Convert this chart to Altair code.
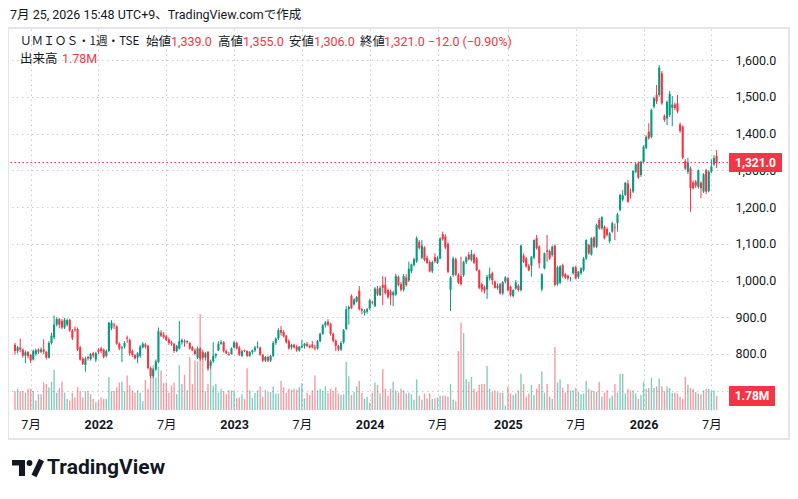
import altair as alt
import pandas as pd
import numpy as np

# ---------------- data (weekly candles) ----------------
week_start = "2021-05-24"

opens = [
    825, 808, 818, 812, 795, 805, 797, 785, 800, 812,
    806, 812, 806, 790, 830, 845, 880, 895, 890, 872,
    880, 893, 864, 868, 868, 818, 787, 770, 792, 786,
    802, 785, 812, 815, 812, 795, 808, 870, 880, 875,
    828, 815, 820, 845, 838, 808, 797, 790, 795, 818,
    826, 822, 762, 740, 758, 778, 858, 852, 848, 840,
    832, 828, 808, 815, 832, 835, 832, 830, 818, 810,
    790, 815, 806, 790, 806, 768, 780, 795, 810, 828,
    832, 808, 800, 800, 818, 830, 818, 795, 810, 808,
    795, 805, 810, 818, 818, 798, 782, 792, 782, 795,
    830, 842, 865, 860, 850, 835, 818, 825, 820, 810,
    818, 822, 828, 822, 826, 818, 815, 835, 855, 878,
    888, 882, 855, 836, 822, 812, 832, 868, 922, 958,
    935, 943, 972, 922, 912, 915, 924, 942, 930, 978,
    960, 988, 988, 974, 970, 960, 962, 1010, 990, 975,
    1008, 1000, 1025, 1042, 1052, 1105, 1062, 1090, 1062, 1050,
    1025, 1064, 1048, 1060, 1126, 1120, 1100, 975, 1015, 1058,
    1016, 1012, 1015, 1050, 1070, 1056, 1070, 1060, 1028, 990,
    982, 976, 1006, 1020, 997, 980, 990, 965, 997, 1006,
    983, 958, 978, 986, 974, 1068, 1060, 1040, 1040, 1062,
    1115, 1092, 976, 1033, 1082, 1080, 1069, 1095, 990, 994,
    1042, 1017, 1013, 1006, 1020, 1036, 1010, 1020, 1028, 1060,
    1097, 1071, 1117, 1092, 1165, 1142, 1146, 1140, 1107, 1133,
    1146, 1156, 1192, 1220, 1233, 1264, 1236, 1242, 1296, 1319,
    1287, 1323, 1361, 1405, 1391, 1473, 1505, 1505, 1564, 1448,
    1441, 1450, 1470, 1479, 1482, 1425, 1419, 1325, 1296, 1305,
    1267, 1269, 1255, 1266, 1242, 1300, 1244, 1296, 1316, 1339,
]

highs = [
    830, 822, 842, 815, 810, 808, 800, 812, 815, 815,
    818, 840, 808, 835, 858, 905, 900, 898, 895, 898,
    896, 896, 868, 875, 872, 822, 792, 792, 795, 803,
    806, 806, 816, 820, 815, 812, 888, 892, 885, 878,
    832, 822, 835, 850, 842, 812, 800, 805, 825, 832,
    830, 825, 766, 762, 785, 872, 865, 860, 852, 845,
    836, 830, 825, 890, 842, 840, 838, 833, 822, 815,
    820, 818, 812, 806, 808, 785, 832, 802, 835, 838,
    835, 812, 806, 818, 835, 834, 822, 812, 812, 810,
    808, 812, 822, 834, 820, 800, 795, 795, 798, 835,
    845, 870, 876, 865, 852, 840, 828, 828, 825, 822,
    838, 830, 832, 826, 835, 825, 838, 858, 882, 890,
    895, 885, 858, 840, 825, 835, 868, 930, 932, 962,
    952, 958, 985, 925, 922, 925, 950, 945, 982, 985,
    985, 1012, 1010, 978, 975, 972, 1018, 1014, 996, 1018,
    1017, 1051, 1046, 1062, 1120, 1110, 1110, 1093, 1068, 1055,
    1054, 1074, 1066, 1118, 1133, 1126, 1104, 1012, 1065, 1062,
    1020, 1065, 1054, 1066, 1078, 1083, 1074, 1064, 1030, 994,
    986, 1015, 1035, 1024, 1000, 992, 994, 998, 1012, 1010,
    986, 976, 1001, 990, 1098, 1074, 1064, 1045, 1066, 1112,
    1124, 1096, 1020, 1076, 1124, 1084, 1095, 1098, 1040, 1042,
    1046, 1020, 1016, 1010, 1038, 1040, 1026, 1036, 1064, 1112,
    1100, 1118, 1120, 1155, 1170, 1175, 1150, 1145, 1132, 1160,
    1155, 1184, 1236, 1246, 1268, 1274, 1250, 1300, 1320, 1324,
    1326, 1368, 1395, 1428, 1468, 1500, 1532, 1586, 1570, 1452,
    1490, 1516, 1502, 1484, 1505, 1430, 1422, 1330, 1334, 1310,
    1272, 1274, 1302, 1270, 1292, 1304, 1300, 1330, 1341, 1355,
]

lows = [
    798, 802, 805, 790, 775, 788, 775, 782, 795, 800,
    802, 800, 785, 788, 826, 840, 875, 870, 868, 868,
    875, 860, 838, 860, 808, 782, 770, 752, 782, 782,
    790, 778, 800, 802, 788, 790, 805, 865, 868, 825,
    810, 778, 815, 830, 795, 792, 785, 775, 790, 815,
    815, 758, 734, 735, 754, 775, 846, 842, 835, 825,
    822, 803, 805, 812, 825, 820, 828, 812, 808, 796,
    786, 782, 785, 782, 754, 760, 775, 788, 808, 825,
    804, 800, 795, 798, 815, 812, 795, 792, 805, 792,
    792, 800, 805, 815, 795, 778, 778, 778, 778, 792,
    825, 838, 850, 845, 828, 812, 812, 815, 806, 806,
    815, 815, 818, 815, 815, 810, 812, 832, 852, 872,
    875, 850, 832, 808, 808, 808, 828, 865, 880, 922,
    932, 940, 918, 908, 905, 910, 920, 935, 928, 958,
    958, 933, 962, 950, 933, 930, 958, 984, 970, 970,
    983, 996, 1020, 1038, 1048, 1084, 1058, 1052, 1045, 1022,
    1020, 1048, 1045, 1058, 1108, 1085, 1020, 917, 1010, 1012,
    990, 986, 1010, 1045, 1054, 1052, 1045, 1025, 976, 968,
    965, 950, 1000, 988, 978, 975, 962, 960, 992, 970,
    956, 954, 975, 970, 970, 1048, 1035, 1025, 1010, 1058,
    1084, 1033, 970, 1030, 1051, 1056, 1065, 984, 986, 990,
    1008, 1004, 1000, 997, 1016, 1003, 1004, 1016, 1024, 1056,
    1070, 1068, 1088, 1088, 1138, 1138, 1112, 1120, 1101, 1130,
    1110, 1133, 1188, 1215, 1230, 1212, 1223, 1238, 1292, 1276,
    1282, 1318, 1357, 1383, 1387, 1468, 1480, 1500, 1478, 1432,
    1423, 1445, 1420, 1464, 1455, 1402, 1330, 1300, 1290, 1187,
    1248, 1252, 1250, 1224, 1238, 1235, 1240, 1292, 1312, 1306,
]

closes = [
    808, 818, 812, 795, 805, 795, 783, 808, 810, 806,
    812, 806, 790, 830, 850, 880, 895, 880, 872, 893,
    892, 864, 843, 866, 812, 785, 773, 788, 788, 800,
    796, 802, 806, 808, 792, 808, 885, 885, 877, 828,
    815, 818, 830, 842, 802, 797, 788, 802, 820, 828,
    820, 762, 740, 758, 780, 862, 850, 846, 838, 830,
    828, 808, 822, 835, 838, 832, 835, 815, 810, 800,
    815, 788, 790, 802, 760, 780, 795, 800, 828, 832,
    808, 802, 798, 815, 832, 815, 798, 808, 808, 795,
    805, 810, 818, 820, 798, 782, 792, 782, 795, 830,
    842, 865, 858, 848, 832, 815, 825, 818, 810, 820,
    822, 828, 822, 818, 818, 815, 835, 855, 878, 886,
    880, 855, 836, 822, 812, 830, 865, 922, 928, 925,
    948, 955, 922, 918, 918, 922, 946, 940, 978, 962,
    980, 980, 966, 955, 960, 968, 1012, 988, 975, 1012,
    988, 1032, 1044, 1058, 1115, 1088, 1095, 1056, 1048, 1025,
    1050, 1052, 1062, 1114, 1112, 1090, 1024, 1008, 1060, 1016,
    994, 990, 1050, 1062, 1058, 1072, 1048, 1028, 980, 975,
    972, 1010, 1017, 1001, 980, 986, 965, 995, 1008, 974,
    960, 974, 995, 974, 1095, 1051, 1038, 1028, 1065, 1110,
    1088, 1047, 1017, 1074, 1078, 1060, 1092, 988, 1036, 1038,
    1012, 1008, 1006, 1007, 1036, 1006, 1024, 1033, 1060, 1110,
    1074, 1115, 1092, 1151, 1142, 1172, 1115, 1124, 1128, 1156,
    1144, 1180, 1233, 1232, 1266, 1214, 1234, 1298, 1316, 1280,
    1323, 1364, 1391, 1387, 1464, 1496, 1487, 1579, 1482, 1437,
    1486, 1508, 1479, 1469, 1460, 1407, 1334, 1305, 1321, 1251,
    1251, 1258, 1300, 1251, 1289, 1242, 1296, 1310, 1333, 1321,
]

# weekly volume, millions of shares
volumes = [
    2.4, 2.7, 2.4, 2.4, 2.2, 2.7, 2.7, 2.4, 1.2, 2.0,
    2.0, 3.5, 3.3, 2.9, 3.6, 5.1, 2.2, 2.8, 3.6, 2.2,
    1.4, 1.2, 2.2, 1.6, 2.9, 2.4, 1.6, 2.4, 2.4, 2.0,
    1.4, 1.0, 1.2, 1.6, 1.4, 1.4, 4.2, 2.4, 2.4, 2.9,
    3.5, 3.6, 2.4, 4.4, 3.1,
    2.5, 2.2, 2.5, 2.2, 1.1, 3.8, 2.7, 4.2, 5.7, 4.1,
    5.5, 5.0, 3.4, 3.5, 2.2, 3.1, 3.5, 2.0, 5.7, 3.3,
    4.5, 2.5, 6.7, 3.3, 6.3, 6.2, 12.2, 6.7, 2.4, 3.3,
    6.0, 3.1, 3.3, 2.2, 2.7, 2.4, 2.0, 2.5, 2.5, 2.4,
    1.5, 1.6, 2.0, 1.4,
    5.3, 2.5, 1.5, 2.2, 2.5, 3.0, 1.7, 2.5, 2.3, 2.3,
    3.0, 2.1, 2.1, 3.7, 2.9, 2.2, 2.7, 2.6, 2.7, 2.6,
    2.9, 3.4, 1.5, 2.2, 1.9, 2.5, 4.4, 2.5, 2.7, 2.4,
    3.0, 2.2, 2.7, 2.4, 2.9, 2.1, 1.9, 2.0, 6.1, 4.3,
    1.9, 2.3, 3.0, 3.7, 2.2, 1.4,
    1.7, 0.9, 2.2, 3.5, 3.2, 2.1, 5.2, 2.7, 1.8, 2.7,
    3.6, 2.5, 2.2, 2.7, 2.5, 2.1, 2.2, 2.0, 1.3, 3.9,
    1.8, 1.3, 2.1, 1.5, 2.1, 1.4, 1.5, 1.6, 1.8, 1.8,
    1.8, 1.7, 3.3, 1.3, 1.1, 7.5, 11.1, 9.8, 3.9, 3.6,
    4.2, 2.7, 2.3, 3.2, 3.3, 3.3, 5.6,
    2.7, 2.3, 2.5, 2.3, 2.2, 2.2, 0.55, 3.0, 2.1, 1.9,
    2.1, 2.5, 4.6, 3.3, 1.7, 2.1, 3.2, 1.9, 2.7, 3.3,
    4.9, 2.2, 3.3, 1.7, 1.4, 8.0, 3.5, 3.9, 2.8, 2.2,
    3.3, 2.5, 2.5, 2.8, 2.3, 2.0, 2.1, 3.7, 2.7, 2.5,
    2.4, 2.3, 3.6,
    1.7, 2.2, 2.5, 1.5, 1.8, 3.3, 2.2, 4.6, 4.6, 2.1,
    2.7, 2.5, 2.5, 2.1, 1.4, 1.9, 3.6, 2.7, 2.8, 4.1,
    2.8, 3.0, 4.0, 3.0, 2.4, 3.0, 2.8, 2.2, 2.2, 2.1,
    1.7, 1.4, 4.2, 3.2, 2.8, 2.7, 2.3, 2.1, 2.0, 2.5,
    2.7, 2.7, 2.4, 2.5, 1.78,
]

tick_dates = ["2021-07-05", "2022-01-03", "2022-07-04", "2023-01-02",
              "2023-07-03", "2024-01-01", "2024-07-01", "2025-01-06",
              "2025-07-07", "2026-01-05", "2026-07-06"]
price_ticks = [700, 800, 900, 1000, 1100, 1200, 1300, 1400, 1500, 1600]

symbol_text = "ＵＭＩＯＳ・1週・TSE"
header_text = "7月 25, 2026 15:48 UTC+9、TradingView.comで作成"

# ---------------- table ----------------
n = min(len(opens), len(highs), len(lows), len(closes), len(volumes))
dates = pd.date_range(week_start, periods=n, freq="7D")
df = pd.DataFrame({
    "date": dates.strftime("%Y-%m-%d"),
    "open": opens[:n], "high": highs[:n], "low": lows[:n],
    "close": closes[:n], "volume": volumes[:n],
})
df["high"] = df[["high", "open", "close"]].max(axis=1)
df["low"] = df[["low", "open", "close"]].min(axis=1)
df["dir"] = np.where(df["close"] >= df["open"], "up", "down")

UP, DOWN = "#089981", "#F23645"
TEXT = "#131722"
GRID = "#c9ccd4"
FONT = "Roboto, 'Noto Sans CJK JP', sans-serif"
JFONT = "'Noto Sans CJK JP', Roboto, sans-serif"

W, H = 719, 381

def dt(ts):
    ts = pd.Timestamp(ts)
    return alt.DateTime(year=ts.year, month=ts.month, date=ts.day,
                        hours=ts.hour, minutes=ts.minute, seconds=ts.second, utc=True)

t0 = pd.Timestamp(week_start)
x_scale = alt.Scale(type="utc", domain=[dt(t0 - pd.Timedelta(days=2.6465)),
                                        dt(t0 + pd.Timedelta(days=1900.19))])
price_scale = alt.Scale(domain=[647.6, 1684.4], nice=False, zero=False)
vol_scale = alt.Scale(domain=[0, 48.44], nice=False, zero=True)

x_axis = alt.Axis(
    values=[dt(d) for d in tick_dates],
    labelExpr="utcmonth(datum.value) == 0 ? utcFormat(datum.value, '%Y') : '7月'",
    labelFontWeight={"condition": {"test": "utcmonth(datum.value) == 0", "value": "bold"},
                     "value": "normal"},
    grid=True, gridColor=GRID, gridDash=[1.5, 3.5], gridWidth=1,
    ticks=False, tickSize=0, domain=False, labelPadding=8,
    labelFontSize=12.5, labelColor=TEXT, labelFont=FONT, title=None,
    labelFlush=False, labelOverlap=False,
)
y_axis = alt.Axis(
    orient="right", values=price_ticks, format=",.1f",
    grid=True, gridColor=GRID, gridDash=[1.5, 3.5], gridWidth=1,
    ticks=False, tickSize=0, domain=False, labelPadding=7,
    labelFontSize=12.5, labelColor=TEXT, labelFont=FONT, title=None,
    labelFlush=False,
)

X = alt.X("date:T", scale=x_scale, axis=x_axis, title=None)
color = alt.Color("dir:N", scale=alt.Scale(domain=["up", "down"], range=[UP, DOWN]), legend=None)

base = alt.Chart(df)

vol = base.mark_bar(size=1.4, opacity=0.5).encode(
    x=X, y=alt.Y("volume:Q", scale=vol_scale, axis=None), color=color)
wick = base.mark_rule(strokeWidth=1).encode(
    x=X, y=alt.Y("low:Q", scale=price_scale, axis=y_axis), y2="high:Q", color=color)
body = base.mark_bar(size=2.1).encode(
    x=X, y=alt.Y("open:Q", scale=price_scale, axis=None), y2="close:Q", color=color)

last_c = float(df["close"].iloc[-1])
prev_c = float(df["close"].iloc[-2])
last_o = float(df["open"].iloc[-1])
last_h = float(df["high"].iloc[-1])
last_l = float(df["low"].iloc[-1])
last_v = float(df["volume"].iloc[-1])
chg = last_c - prev_c
pct = chg / prev_c * 100
chg_text = f"{last_c:,.1f} {chg:+.1f} ({pct:+.2f}%)".replace("-", "−")
vol_text = f"{last_v:.2f}M"
last_color = DOWN if last_c < last_o else UP

last_df = pd.DataFrame({"price": [last_c], "label": [f"{last_c:,.1f}"]})
vol_df = pd.DataFrame({"v": [last_v], "label": [vol_text]})

last_line = alt.Chart(last_df).mark_rule(color=last_color, strokeDash=[1.5, 2.5], strokeWidth=1).encode(
    y=alt.Y("price:Q", scale=price_scale, axis=None))

# label boxes: custom square-unit paths (unit half-width 1 -> sqrt(size)/2 px)
BOX_P = "M-1,-0.358L1,-0.358L1,0.358L-1,0.358Z"
price_box = alt.Chart(last_df).mark_point(shape=BOX_P, filled=True, opacity=1, size=53 * 53,
                                          color=last_color, strokeWidth=0).encode(
    x=alt.value(746.5), y=alt.Y("price:Q", scale=price_scale, axis=None))
price_lbl = alt.Chart(last_df).mark_text(color="white", font=FONT, fontSize=12, fontWeight="bold").encode(
    x=alt.value(746.5), y=alt.Y("price:Q", scale=price_scale, axis=None), text="label:N")

BOX_V = "M-1,-0.435L1,-0.435L1,0.435L-1,0.435Z"
vol_box = alt.Chart(vol_df).mark_point(shape=BOX_V, filled=True, opacity=1, size=46 * 46,
                                       color=last_color, strokeWidth=0).encode(
    x=alt.value(743), y=alt.Y("v:Q", scale=vol_scale, axis=None))
vol_lbl = alt.Chart(vol_df).mark_text(color="white", font=FONT, fontSize=12, fontWeight="bold").encode(
    x=alt.value(743), y=alt.Y("v:Q", scale=vol_scale, axis=None), text="label:N")

one = alt.Data(values=[{}])

def txt(s, x, y, col=TEXT, size=13, weight="normal", font=FONT):
    return alt.Chart(one).mark_text(text=s, align="left", baseline="middle", font=font,
                                    fontSize=size, fontWeight=weight, color=col).encode(
        x=alt.value(x), y=alt.value(y))

texts = [
    txt(header_text, 1, -14, size=12.5),
    txt(symbol_text, 11, 13, size=11.6, font=JFONT),
    txt("始値", 137, 13, size=12.5, font=JFONT), txt(f"{last_o:,.1f}", 162, 13, last_color, 12.5),
    txt("高値", 209, 13, size=12.5, font=JFONT), txt(f"{last_h:,.1f}", 234, 13, last_color, 12.5),
    txt("安値", 280, 13, size=12.5, font=JFONT), txt(f"{last_l:,.1f}", 305, 13, last_color, 12.5),
    txt("終値", 351, 13, size=12.5, font=JFONT), txt(chg_text, 375, 13, last_color, 12.5),
    txt("出来高", 11, 30, size=12.5, font=JFONT), txt(vol_text, 53, 30, last_color, 12.5),
    txt("TradingView", 38, 439, size=21, weight="bold"),
]

frame = alt.Chart(one).mark_rect(fillOpacity=0, stroke="#e3e5ea", strokeWidth=2).encode(
    x=alt.value(-1), x2=alt.value(780), y=alt.value(-1), y2=alt.value(410))

logo_bar = alt.Chart(one).mark_rect(color=TEXT).encode(
    x=alt.value(3), x2=alt.value(16), y=alt.value(431), y2=alt.value(436.5))
logo_stem = alt.Chart(one).mark_rect(color=TEXT).encode(
    x=alt.value(10), x2=alt.value(16), y=alt.value(431), y2=alt.value(447))
logo_dot = alt.Chart(one).mark_point(shape="circle", filled=True, size=34, color=TEXT, opacity=1).encode(
    x=alt.value(20.5), y=alt.value(434))
logo_slash = alt.Chart(one).mark_rule(color=TEXT, strokeWidth=5.5).encode(
    x=alt.value(25), x2=alt.value(32.5), y=alt.value(447), y2=alt.value(431))

chart = alt.layer(
    vol, wick, body, last_line, price_box, price_lbl, vol_box, vol_lbl,
    frame, logo_bar, logo_stem, logo_dot, logo_slash, *texts,
).resolve_scale(y="independent").properties(
    width=W, height=H,
    autosize=alt.AutoSizeParams(type="none"),
    padding={"left": 1, "top": 21, "right": 62, "bottom": 80},
    background="white",
).configure_view(stroke="transparent")

chart.save("out.html", embed_options={"renderer": "svg", "actions": False})
